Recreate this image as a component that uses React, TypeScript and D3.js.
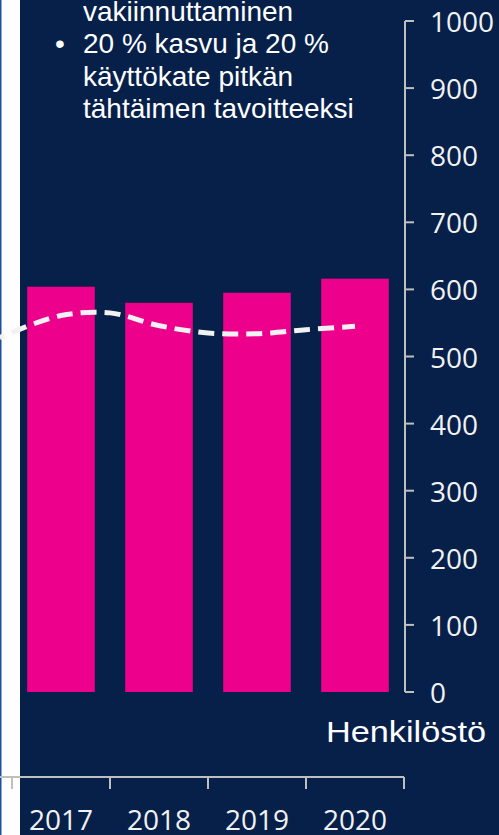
import React from "react";
import * as d3 from "d3";

const barYears = ["2017", "2018", "2019", "2020"];
const barValues = [604, 580, 595, 616];
const yTicks = [0, 100, 200, 300, 400, 500, 600, 700, 800, 900, 1000];
const lineTimes = [2016.375, 2016.5, 2017, 2017.5, 2018, 2018.5, 2019, 2019.5, 2020];
const lineValues = [528, 536, 561, 565, 546, 535, 534, 540, 545];
const bulletLines = [
  { bullet: false, text: "vakiinnuttaminen" },
  { bullet: true, text: "20 % kasvu ja 20 %" },
  { bullet: false, text: "käyttökate pitkän" },
  { bullet: false, text: "tähtäimen tavoitteeksi" },
];
const axisTitle = "Henkilöstö";

const W = 499;
const H = 835;
const NAVY = "#06204a";
const PINK = "#ec008c";
const AXIS = "#bfbfbf";
const LABEL = "#f2f2f2";

export default function App() {
  const x = d3.scaleBand<string>().domain(barYears).range([12, 404]).padding(0);
  const bw = x.bandwidth();
  const barW = bw * 0.69;
  const y = d3.scaleLinear().domain([0, 1000]).range([692, 21]);
  const xTime = d3
    .scaleLinear()
    .domain([2017, 2020])
    .range([(x("2017") as number) + bw / 2, (x("2020") as number) + bw / 2]);

  const lineGen = d3
    .line<number>()
    .x((_, i) => xTime(lineTimes[i]))
    .y((v) => y(v))
    .curve(d3.curveCatmullRom.alpha(0.5));

  const axisX = 405;
  const axisY = 777;
  const boundaries = [...barYears.map((c) => x(c) as number), 404];

  return (
    <svg
      width={W}
      height={H}
      style={{ position: "absolute", left: 0, top: 0, display: "block" }}
    >
      <rect x={0} y={0} width={W} height={H} fill="#ffffff" />
      <rect x={20} y={0} width={W - 20} height={H} fill={NAVY} />
      <rect x={0} y={0} width={1.5} height={H} fill="#1f4e9c" />

      {/* bullet text */}
      <g fontFamily="'Liberation Sans', Arial, sans-serif" fontSize={28} fill="#ffffff">
        {bulletLines.map((l, i) => (
          <g key={i}>
            {l.bullet && (
              <text x={55} y={21 + i * 32.4}>
                •
              </text>
            )}
            <text x={83} y={21 + i * 32.4}>
              {l.text}
            </text>
          </g>
        ))}
      </g>

      {/* bars */}
      {barYears.map((c, i) => (
        <rect
          key={c}
          x={(x(c) as number) + (bw - barW) / 2}
          y={y(barValues[i])}
          width={barW}
          height={y(0) - y(barValues[i])}
          fill={PINK}
        />
      ))}

      {/* dashed line */}
      <path
        d={lineGen(lineValues) || ""}
        fill="none"
        stroke="#f2f2f2"
        strokeWidth={5}
        strokeDasharray="16 8"
        strokeDashoffset={11}
      />

      {/* right y axis */}
      <line x1={axisX} x2={axisX} y1={y(1000)} y2={y(0)} stroke={AXIS} strokeWidth={2} />
      {yTicks.map((t) => (
        <g key={t}>
          <line x1={axisX} x2={axisX + 9} y1={y(t)} y2={y(t)} stroke={AXIS} strokeWidth={2} />
          <text
            x={430}
            y={y(t)}
            dominantBaseline="central"
            fontFamily="'Open Sans', sans-serif"
            fontSize={28}
            fill={LABEL}
          >
            {t}
          </text>
        </g>
      ))}
      <text
        x={326}
        y={742}
        fontFamily="'Liberation Sans', Arial, sans-serif"
        fontSize={30}
        fill="#ffffff"
        textLength={160}
        lengthAdjust="spacingAndGlyphs"
      >
        {axisTitle}
      </text>

      {/* bottom x axis */}
      <line x1={0} x2={404} y1={axisY} y2={axisY} stroke={AXIS} strokeWidth={2} />
      {boundaries.map((b, i) => (
        <line key={i} x1={b} x2={b} y1={axisY} y2={axisY + 12} stroke={AXIS} strokeWidth={2} />
      ))}
      {barYears.map((c) => (
        <text
          key={c}
          x={(x(c) as number) + bw / 2}
          y={830}
          textAnchor="middle"
          fontFamily="'Open Sans', sans-serif"
          fontSize={28}
          fill={LABEL}
        >
          {c}
        </text>
      ))}
    </svg>
  );
}
